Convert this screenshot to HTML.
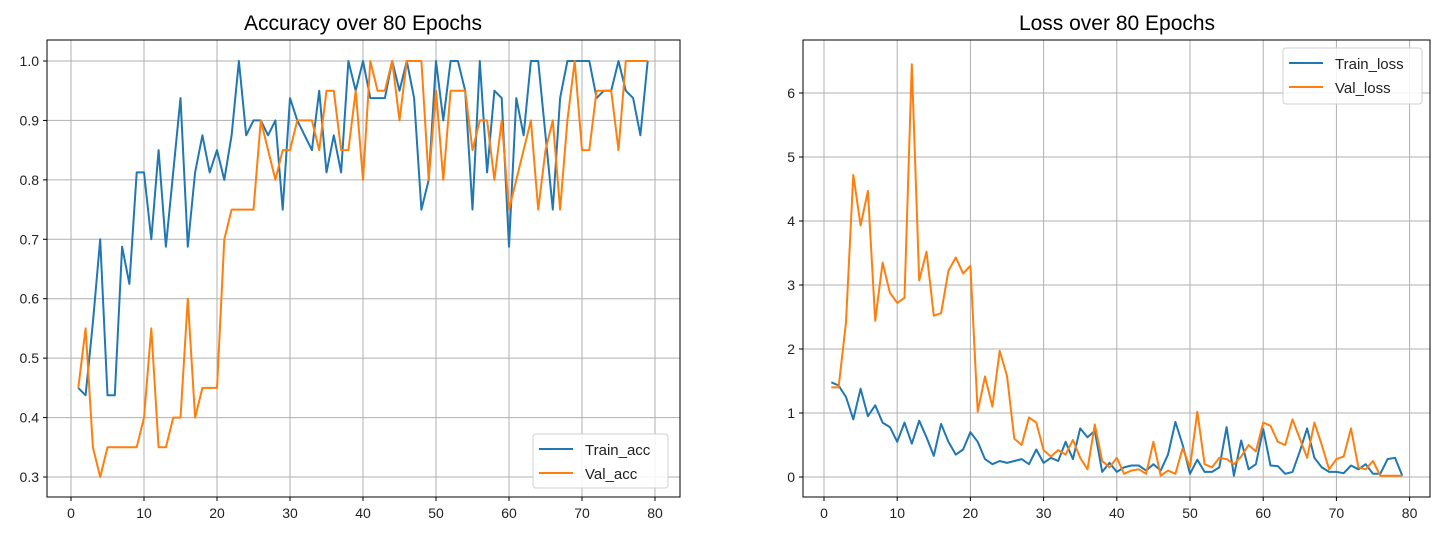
<!DOCTYPE html>
<html><head><meta charset="utf-8"><style>
html,body{margin:0;padding:0;background:#fff}
svg{display:block;font-family:"Liberation Sans","DejaVu Sans",sans-serif}
</style></head><body>
<svg id="fig" width="1441" height="536" viewBox="0 0 1441 536">
<text x="363" y="30" font-size="21" text-anchor="middle" fill="#000">Accuracy over 80 Epochs</text>
<text x="1117" y="30" font-size="21" text-anchor="middle" fill="#000">Loss over 80 Epochs</text>
<g id="accChart"></g>
<g id="lossChart"></g>
</svg>
<script>
const epochs = Array.from({length:79},(_,i)=>i+1);
const trainAcc = [0.45,0.4375,0.56,0.70,0.4375,0.4375,0.6875,0.625,0.8125,0.8125,
0.70,0.85,0.6875,0.8125,0.9375,0.6875,0.8125,0.875,0.8125,0.85,
0.80,0.875,1.0,0.875,0.90,0.90,0.875,0.90,0.75,0.9375,
0.90,0.875,0.85,0.95,0.8125,0.875,0.8125,1.0,0.95,1.0,
0.9375,0.9375,0.9375,1.0,0.95,1.0,0.9375,0.75,0.80,1.0,
0.90,1.0,1.0,0.95,0.75,1.0,0.8125,0.95,0.9375,0.6875,
0.9375,0.875,1.0,1.0,0.875,0.75,0.9375,1.0,1.0,1.0,
1.0,0.9375,0.95,0.95,1.0,0.95,0.9375,0.875,1.0];
const valAcc = [0.45,0.55,0.35,0.30,0.35,0.35,0.35,0.35,0.35,0.40,
0.55,0.35,0.35,0.40,0.40,0.60,0.40,0.45,0.45,0.45,
0.70,0.75,0.75,0.75,0.75,0.90,0.85,0.80,0.85,0.85,
0.90,0.90,0.90,0.85,0.95,0.95,0.85,0.85,0.95,0.80,
1.0,0.95,0.95,1.0,0.90,1.0,1.0,1.0,0.80,0.95,
0.80,0.95,0.95,0.95,0.85,0.90,0.90,0.80,0.90,0.75,
0.80,0.85,0.90,0.75,0.85,0.90,0.75,0.90,1.0,0.85,
0.85,0.95,0.95,0.95,0.85,1.0,1.0,1.0,1.0];
const trainLoss = [1.48,1.43,1.25,0.9,1.38,0.95,1.12,0.85,0.78,0.55,
0.85,0.52,0.88,0.62,0.33,0.83,0.55,0.35,0.43,0.70,
0.55,0.28,0.20,0.25,0.22,0.25,0.28,0.20,0.43,0.22,
0.30,0.25,0.55,0.28,0.76,0.62,0.72,0.08,0.22,0.08,
0.15,0.18,0.18,0.10,0.20,0.10,0.35,0.86,0.50,0.05,
0.27,0.08,0.08,0.15,0.78,0.02,0.57,0.12,0.20,0.75,
0.18,0.17,0.05,0.08,0.40,0.76,0.30,0.15,0.08,0.08,
0.06,0.18,0.12,0.20,0.05,0.05,0.28,0.30,0.02];
const valLoss = [1.4,1.4,2.42,4.72,3.93,4.47,2.44,3.35,2.88,2.72,
2.80,6.45,3.07,3.52,2.52,2.56,3.22,3.43,3.18,3.3,
1.02,1.57,1.1,1.97,1.58,0.6,0.5,0.93,0.85,0.42,
0.32,0.42,0.35,0.58,0.30,0.12,0.82,0.25,0.15,0.30,
0.05,0.10,0.12,0.05,0.55,0.02,0.10,0.05,0.45,0.15,
1.02,0.20,0.15,0.30,0.28,0.20,0.32,0.50,0.40,0.85,
0.80,0.55,0.50,0.90,0.60,0.30,0.85,0.50,0.12,0.28,
0.32,0.76,0.15,0.12,0.25,0.02,0.02,0.02,0.02];
const xTicks = [0,10,20,30,40,50,60,70,80];
const accTicks = [0.3,0.4,0.5,0.6,0.7,0.8,0.9,1.0];
const lossTicks = [0,1,2,3,4,5,6];

const NS="http://www.w3.org/2000/svg";
function mk(parent,tag,attrs){const e=document.createElementNS(NS,tag);for(const k in attrs)e.setAttribute(k,attrs[k]);parent.appendChild(e);return e;}

function drawChart(g, cfg){
  const xs = v => cfg.x0 + v*cfg.xPer;
  const ys = v => cfg.yA + (v-cfg.vA)*(cfg.yB-cfg.yA)/(cfg.vB-cfg.vA);
  // grid
  xTicks.forEach(t=>{
    const l=mk(g,'line',{x1:xs(t),x2:xs(t),y1:cfg.top,y2:cfg.bottom,stroke:'#b0b0b0','stroke-width':1});
    
    
    mk(g,'line',{x1:xs(t),x2:xs(t),y1:cfg.bottom,y2:cfg.bottom+4,stroke:'#000','stroke-width':1});
    const tx=mk(g,'text',{x:xs(t),y:cfg.bottom+21,'font-size':14,'text-anchor':'middle',fill:'#222'});
    tx.textContent=t;
    
    
  });
  cfg.yTicks.forEach(t=>{
    const l=mk(g,'line',{x1:cfg.left,x2:cfg.right,y1:ys(t),y2:ys(t),stroke:'#b0b0b0','stroke-width':1});
    
    
    mk(g,'line',{x1:cfg.left-4,x2:cfg.left,y1:ys(t),y2:ys(t),stroke:'#000','stroke-width':1});
    const tx=mk(g,'text',{x:cfg.left-8,y:ys(t)+5,'font-size':14,'text-anchor':'end',fill:'#222'});
    tx.textContent=cfg.fmt(t);
    
    
  });
  cfg.series.forEach(s=>{
    const pts=s.data.map((v,i)=>xs(epochs[i]).toFixed(1)+','+ys(v).toFixed(1)).join(' ');
    const p=mk(g,'polyline',{points:pts,fill:'none',stroke:s.color,'stroke-width':2,'stroke-linejoin':'round'});
    
    
  });
  const fr=mk(g,'rect',{x:cfg.left,y:cfg.top,width:cfg.right-cfg.left,height:cfg.bottom-cfg.top,fill:'none',stroke:'#000','stroke-width':1});
  
  
  // legend
  const L=cfg.legend;
  const lg=mk(g,'g',{});
  
  
  mk(lg,'rect',{x:L.x,y:L.y,width:L.w,height:L.h,rx:3,fill:'#fff','fill-opacity':0.85,stroke:'#d0d0d0'});
  cfg.series.forEach((s,i)=>{
    const yy=L.y+15+i*24;
    mk(lg,'line',{x1:L.x+6,x2:L.x+40,y1:yy,y2:yy,stroke:s.color,'stroke-width':2});
    const t=mk(lg,'text',{x:L.x+52,y:yy+6,'font-size':15,fill:'#222'});
    t.textContent=s.label;
    
    
  });
}
drawChart(document.getElementById('accChart'),{
  left:47,right:680,top:40,bottom:497,x0:71,xPer:7.3,
  yA:477,vA:0.3,yB:61,vB:1.0,yTicks:accTicks,fmt:t=>t.toFixed(1),
  series:[{data:trainAcc,color:'#1f77b4',name:'train-acc-line',label:'Train_acc'},
          {data:valAcc,color:'#ff7f0e',name:'val-acc-line',label:'Val_acc'}],
  legend:{x:533,y:434,w:135,h:54}
});
drawChart(document.getElementById('lossChart'),{
  left:803,right:1430,top:40,bottom:497,x0:824,xPer:7.32,
  yA:477,vA:0,yB:413,vB:1,yTicks:lossTicks,fmt:t=>String(t),
  series:[{data:trainLoss,color:'#1f77b4',name:'train-loss-line',label:'Train_loss'},
          {data:valLoss,color:'#ff7f0e',name:'val-loss-line',label:'Val_loss'}],
  legend:{x:1283,y:48,w:139,h:56}
});
</script>
</body></html>
